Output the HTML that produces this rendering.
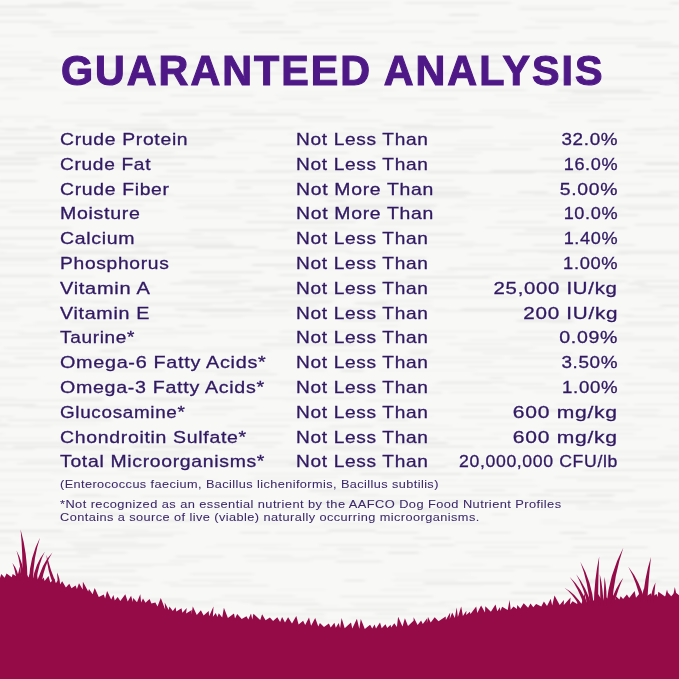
<!DOCTYPE html><html><head><meta charset="utf-8"><style>
html,body{margin:0;padding:0;width:679px;height:679px;overflow:hidden}
body{position:relative;background:#f8f8f7;font-family:"Liberation Sans",sans-serif}
.t{position:absolute;white-space:nowrap;line-height:1;top:0}
.r{font-size:17px;color:#301962;-webkit-text-stroke:0.3px #301962;letter-spacing:0.6px}
.n{font-size:10.6px;color:#3b2868;-webkit-text-stroke:0.05px #3b2868;letter-spacing:0.35px}
.ti{font-size:41.8px;font-weight:bold;color:#4e1986;-webkit-text-stroke:1.1px #4e1986}
.L{transform-origin:0 0}.R{transform-origin:100% 0}
</style></head><body>
<svg style="position:absolute;left:0;top:0" width="679" height="679"><defs><filter id="bl" x="-5%" y="-50%" width="110%" height="200%"><feGaussianBlur stdDeviation="2 0.9"/></filter></defs><g fill="#202020" filter="url(#bl)"><rect x="62" y="2.2" width="21" height="1.5" fill-opacity="0.063"/><rect x="187" y="2.2" width="67" height="1" fill-opacity="0.064"/><rect x="294" y="2.2" width="97" height="1" fill-opacity="0.060"/><rect x="405" y="2.2" width="106" height="1.5" fill-opacity="0.061"/><rect x="670" y="2.2" width="103" height="2" fill-opacity="0.062"/><rect x="-38" y="4.1" width="18" height="2" fill-opacity="0.040"/><rect x="28" y="4.1" width="96" height="1.5" fill-opacity="0.063"/><rect x="159" y="4.1" width="54" height="1" fill-opacity="0.043"/><rect x="-9" y="5.8" width="109" height="2" fill-opacity="0.062"/><rect x="155" y="5.8" width="17" height="1" fill-opacity="0.047"/><rect x="179" y="5.8" width="73" height="1.5" fill-opacity="0.059"/><rect x="288" y="5.8" width="103" height="1" fill-opacity="0.039"/><rect x="441" y="5.8" width="34" height="1" fill-opacity="0.054"/><rect x="518" y="5.8" width="108" height="1" fill-opacity="0.044"/><rect x="195" y="8.4" width="63" height="1" fill-opacity="0.059"/><rect x="314" y="8.4" width="57" height="1.5" fill-opacity="0.042"/><rect x="519" y="8.4" width="75" height="1.5" fill-opacity="0.057"/><rect x="632" y="8.4" width="41" height="1" fill-opacity="0.054"/><rect x="-33" y="10.7" width="71" height="1.5" fill-opacity="0.045"/><rect x="85" y="10.7" width="95" height="1" fill-opacity="0.061"/><rect x="291" y="10.7" width="44" height="1" fill-opacity="0.062"/><rect x="-44" y="13.9" width="90" height="1.5" fill-opacity="0.068"/><rect x="95" y="13.9" width="95" height="1" fill-opacity="0.041"/><rect x="239" y="13.9" width="48" height="1.5" fill-opacity="0.042"/><rect x="318" y="13.9" width="75" height="1" fill-opacity="0.053"/><rect x="449" y="13.9" width="30" height="2" fill-opacity="0.068"/><rect x="124" y="18.3" width="107" height="1" fill-opacity="0.040"/><rect x="528" y="18.3" width="86" height="1" fill-opacity="0.042"/><rect x="-45" y="20.8" width="97" height="1.5" fill-opacity="0.061"/><rect x="107" y="20.8" width="38" height="1" fill-opacity="0.066"/><rect x="264" y="20.8" width="20" height="2" fill-opacity="0.041"/><rect x="389" y="20.8" width="89" height="2" fill-opacity="0.032"/><rect x="536" y="20.8" width="96" height="1.5" fill-opacity="0.050"/><rect x="646" y="20.8" width="22" height="1.5" fill-opacity="0.046"/><rect x="31" y="22.9" width="51" height="1.5" fill-opacity="0.037"/><rect x="112" y="22.9" width="77" height="1" fill-opacity="0.055"/><rect x="228" y="22.9" width="56" height="1.5" fill-opacity="0.050"/><rect x="312" y="22.9" width="81" height="1.5" fill-opacity="0.040"/><rect x="437" y="22.9" width="22" height="1" fill-opacity="0.047"/><rect x="614" y="22.9" width="40" height="2" fill-opacity="0.035"/><rect x="40" y="26.6" width="24" height="1" fill-opacity="0.065"/><rect x="168" y="26.6" width="26" height="1.5" fill-opacity="0.058"/><rect x="230" y="26.6" width="91" height="1" fill-opacity="0.061"/><rect x="523" y="26.6" width="38" height="2" fill-opacity="0.040"/><rect x="51" y="31.0" width="107" height="2" fill-opacity="0.053"/><rect x="239" y="31.0" width="62" height="2" fill-opacity="0.058"/><rect x="338" y="31.0" width="97" height="1" fill-opacity="0.060"/><rect x="472" y="31.0" width="45" height="1.5" fill-opacity="0.058"/><rect x="-7" y="35.4" width="44" height="1" fill-opacity="0.062"/><rect x="52" y="35.4" width="49" height="1" fill-opacity="0.061"/><rect x="148" y="37.6" width="104" height="1" fill-opacity="0.032"/><rect x="280" y="37.6" width="84" height="1.5" fill-opacity="0.034"/><rect x="453" y="37.6" width="18" height="1" fill-opacity="0.045"/><rect x="585" y="37.6" width="67" height="2" fill-opacity="0.041"/><rect x="299" y="41.9" width="79" height="2" fill-opacity="0.035"/><rect x="411" y="41.9" width="21" height="1" fill-opacity="0.059"/><rect x="472" y="41.9" width="84" height="2" fill-opacity="0.045"/><rect x="568" y="41.9" width="104" height="2" fill-opacity="0.043"/><rect x="-33" y="45.4" width="45" height="1" fill-opacity="0.033"/><rect x="150" y="45.4" width="40" height="1" fill-opacity="0.065"/><rect x="423" y="45.4" width="92" height="1" fill-opacity="0.050"/><rect x="636" y="45.4" width="101" height="2" fill-opacity="0.058"/><rect x="78" y="48.0" width="91" height="1" fill-opacity="0.037"/><rect x="-20" y="51.8" width="62" height="1" fill-opacity="0.048"/><rect x="181" y="51.8" width="105" height="1" fill-opacity="0.041"/><rect x="396" y="51.8" width="49" height="1" fill-opacity="0.033"/><rect x="121" y="54.4" width="87" height="1" fill-opacity="0.034"/><rect x="357" y="54.4" width="60" height="1" fill-opacity="0.064"/><rect x="458" y="54.4" width="44" height="2" fill-opacity="0.060"/><rect x="531" y="54.4" width="58" height="1.5" fill-opacity="0.040"/><rect x="619" y="54.4" width="49" height="1" fill-opacity="0.069"/><rect x="-9" y="57.0" width="66" height="2" fill-opacity="0.031"/><rect x="90" y="57.0" width="75" height="2" fill-opacity="0.054"/><rect x="197" y="57.0" width="21" height="2" fill-opacity="0.048"/><rect x="225" y="57.0" width="83" height="2" fill-opacity="0.032"/><rect x="314" y="57.0" width="107" height="2" fill-opacity="0.034"/><rect x="436" y="57.0" width="47" height="1" fill-opacity="0.067"/><rect x="11" y="60.2" width="20" height="1" fill-opacity="0.034"/><rect x="42" y="60.2" width="80" height="2" fill-opacity="0.050"/><rect x="223" y="60.2" width="108" height="1.5" fill-opacity="0.062"/><rect x="387" y="60.2" width="18" height="2" fill-opacity="0.054"/><rect x="470" y="60.2" width="52" height="2" fill-opacity="0.057"/><rect x="-46" y="62.9" width="89" height="1" fill-opacity="0.041"/><rect x="206" y="62.9" width="105" height="1" fill-opacity="0.037"/><rect x="648" y="62.9" width="110" height="1" fill-opacity="0.038"/><rect x="-33" y="65.3" width="93" height="1" fill-opacity="0.058"/><rect x="156" y="65.3" width="42" height="2" fill-opacity="0.064"/><rect x="231" y="65.3" width="101" height="1" fill-opacity="0.065"/><rect x="363" y="65.3" width="74" height="1" fill-opacity="0.062"/><rect x="533" y="65.3" width="25" height="1" fill-opacity="0.063"/><rect x="30" y="68.7" width="92" height="2" fill-opacity="0.052"/><rect x="144" y="68.7" width="76" height="1" fill-opacity="0.038"/><rect x="276" y="68.7" width="80" height="1" fill-opacity="0.061"/><rect x="394" y="68.7" width="35" height="1.5" fill-opacity="0.070"/><rect x="448" y="68.7" width="57" height="1" fill-opacity="0.043"/><rect x="82" y="72.9" width="105" height="2" fill-opacity="0.061"/><rect x="218" y="72.9" width="71" height="1" fill-opacity="0.068"/><rect x="420" y="72.9" width="86" height="1.5" fill-opacity="0.047"/><rect x="670" y="72.9" width="35" height="1.5" fill-opacity="0.062"/><rect x="-7" y="77.4" width="50" height="2" fill-opacity="0.042"/><rect x="74" y="77.4" width="110" height="1.5" fill-opacity="0.068"/><rect x="313" y="77.4" width="43" height="1" fill-opacity="0.062"/><rect x="362" y="77.4" width="75" height="1" fill-opacity="0.031"/><rect x="575" y="77.4" width="107" height="2" fill-opacity="0.052"/><rect x="-34" y="78.9" width="47" height="1" fill-opacity="0.052"/><rect x="115" y="78.9" width="84" height="1" fill-opacity="0.031"/><rect x="367" y="78.9" width="39" height="2" fill-opacity="0.060"/><rect x="553" y="78.9" width="31" height="2" fill-opacity="0.056"/><rect x="-35" y="82.2" width="64" height="1" fill-opacity="0.037"/><rect x="89" y="82.2" width="67" height="2" fill-opacity="0.044"/><rect x="176" y="82.2" width="39" height="1.5" fill-opacity="0.051"/><rect x="228" y="82.2" width="19" height="2" fill-opacity="0.039"/><rect x="303" y="82.2" width="73" height="1" fill-opacity="0.053"/><rect x="676" y="82.2" width="76" height="1" fill-opacity="0.067"/><rect x="-36" y="86.6" width="20" height="1.5" fill-opacity="0.032"/><rect x="6" y="86.6" width="52" height="1.5" fill-opacity="0.035"/><rect x="86" y="86.6" width="100" height="1" fill-opacity="0.068"/><rect x="555" y="86.6" width="108" height="1" fill-opacity="0.042"/><rect x="678" y="86.6" width="61" height="1" fill-opacity="0.036"/><rect x="-36" y="89.5" width="16" height="1" fill-opacity="0.037"/><rect x="2" y="89.5" width="77" height="1" fill-opacity="0.036"/><rect x="113" y="89.5" width="51" height="1" fill-opacity="0.046"/><rect x="185" y="89.5" width="27" height="1.5" fill-opacity="0.035"/><rect x="346" y="89.5" width="50" height="1" fill-opacity="0.049"/><rect x="421" y="89.5" width="105" height="1.5" fill-opacity="0.058"/><rect x="557" y="89.5" width="85" height="2" fill-opacity="0.064"/><rect x="679" y="89.5" width="59" height="2" fill-opacity="0.048"/><rect x="215" y="91.6" width="40" height="1" fill-opacity="0.032"/><rect x="283" y="91.6" width="98" height="1" fill-opacity="0.031"/><rect x="572" y="91.6" width="88" height="2" fill-opacity="0.052"/><rect x="170" y="94.8" width="84" height="1.5" fill-opacity="0.058"/><rect x="275" y="94.8" width="108" height="1" fill-opacity="0.035"/><rect x="495" y="94.8" width="107" height="1" fill-opacity="0.049"/><rect x="662" y="94.8" width="65" height="1" fill-opacity="0.055"/><rect x="-23" y="98.0" width="43" height="1" fill-opacity="0.045"/><rect x="78" y="98.0" width="50" height="1" fill-opacity="0.052"/><rect x="279" y="98.0" width="44" height="1.5" fill-opacity="0.046"/><rect x="378" y="98.0" width="80" height="1.5" fill-opacity="0.050"/><rect x="538" y="98.0" width="23" height="1" fill-opacity="0.041"/><rect x="567" y="98.0" width="85" height="1.5" fill-opacity="0.048"/><rect x="63" y="102.0" width="99" height="1.5" fill-opacity="0.049"/><rect x="254" y="102.0" width="23" height="1" fill-opacity="0.044"/><rect x="309" y="102.0" width="109" height="1" fill-opacity="0.036"/><rect x="548" y="102.0" width="56" height="1" fill-opacity="0.069"/><rect x="203" y="106.0" width="36" height="1" fill-opacity="0.056"/><rect x="545" y="106.0" width="53" height="1" fill-opacity="0.048"/><rect x="107" y="109.8" width="21" height="1" fill-opacity="0.042"/><rect x="160" y="109.8" width="96" height="2" fill-opacity="0.034"/><rect x="268" y="109.8" width="102" height="1" fill-opacity="0.038"/><rect x="416" y="109.8" width="46" height="1" fill-opacity="0.065"/><rect x="480" y="109.8" width="50" height="1.5" fill-opacity="0.041"/><rect x="550" y="109.8" width="81" height="1" fill-opacity="0.034"/><rect x="652" y="109.8" width="31" height="1" fill-opacity="0.049"/><rect x="141" y="113.4" width="57" height="2" fill-opacity="0.061"/><rect x="230" y="113.4" width="70" height="2" fill-opacity="0.066"/><rect x="434" y="113.4" width="110" height="2" fill-opacity="0.037"/><rect x="-8" y="116.5" width="57" height="1" fill-opacity="0.053"/><rect x="299" y="116.5" width="46" height="1.5" fill-opacity="0.067"/><rect x="503" y="116.5" width="55" height="1.5" fill-opacity="0.037"/><rect x="601" y="116.5" width="68" height="1" fill-opacity="0.034"/><rect x="-50" y="120.2" width="52" height="1.5" fill-opacity="0.046"/><rect x="14" y="120.2" width="20" height="1" fill-opacity="0.038"/><rect x="45" y="120.2" width="67" height="1.5" fill-opacity="0.045"/><rect x="140" y="120.2" width="21" height="1.5" fill-opacity="0.043"/><rect x="172" y="120.2" width="105" height="1.5" fill-opacity="0.047"/><rect x="303" y="120.2" width="80" height="1" fill-opacity="0.061"/><rect x="424" y="120.2" width="38" height="1.5" fill-opacity="0.044"/><rect x="588" y="120.2" width="36" height="1.5" fill-opacity="0.069"/><rect x="675" y="120.2" width="28" height="1" fill-opacity="0.050"/><rect x="76" y="124.3" width="91" height="2" fill-opacity="0.052"/><rect x="181" y="124.3" width="18" height="1" fill-opacity="0.030"/><rect x="382" y="124.3" width="50" height="1.5" fill-opacity="0.052"/><rect x="35" y="126.2" width="16" height="2" fill-opacity="0.061"/><rect x="232" y="126.2" width="80" height="1.5" fill-opacity="0.030"/><rect x="402" y="126.2" width="91" height="2" fill-opacity="0.062"/><rect x="663" y="126.2" width="37" height="1" fill-opacity="0.039"/><rect x="-41" y="128.0" width="69" height="1.5" fill-opacity="0.054"/><rect x="110" y="128.0" width="58" height="2" fill-opacity="0.056"/><rect x="209" y="128.0" width="85" height="1.5" fill-opacity="0.047"/><rect x="343" y="128.0" width="32" height="1.5" fill-opacity="0.051"/><rect x="633" y="128.0" width="62" height="2" fill-opacity="0.040"/><rect x="-23" y="129.6" width="21" height="1" fill-opacity="0.049"/><rect x="5" y="129.6" width="79" height="1.5" fill-opacity="0.049"/><rect x="132" y="129.6" width="91" height="2" fill-opacity="0.053"/><rect x="373" y="129.6" width="88" height="1" fill-opacity="0.055"/><rect x="596" y="129.6" width="62" height="1" fill-opacity="0.050"/><rect x="-26" y="133.2" width="52" height="1" fill-opacity="0.054"/><rect x="158" y="133.2" width="86" height="1.5" fill-opacity="0.034"/><rect x="289" y="133.2" width="106" height="1.5" fill-opacity="0.038"/><rect x="519" y="133.2" width="53" height="1" fill-opacity="0.043"/><rect x="627" y="133.2" width="58" height="1.5" fill-opacity="0.047"/><rect x="-38" y="137.2" width="93" height="2" fill-opacity="0.066"/><rect x="74" y="137.2" width="36" height="1" fill-opacity="0.038"/><rect x="151" y="137.2" width="84" height="2" fill-opacity="0.061"/><rect x="368" y="137.2" width="60" height="1" fill-opacity="0.052"/><rect x="95" y="140.5" width="56" height="2" fill-opacity="0.039"/><rect x="183" y="140.5" width="74" height="1" fill-opacity="0.031"/><rect x="360" y="140.5" width="27" height="2" fill-opacity="0.038"/><rect x="458" y="140.5" width="101" height="1" fill-opacity="0.042"/><rect x="51" y="142.4" width="43" height="1" fill-opacity="0.039"/><rect x="149" y="142.4" width="68" height="1" fill-opacity="0.047"/><rect x="355" y="142.4" width="65" height="1.5" fill-opacity="0.038"/><rect x="599" y="142.4" width="39" height="1" fill-opacity="0.053"/><rect x="-13" y="144.1" width="73" height="1.5" fill-opacity="0.066"/><rect x="182" y="144.1" width="31" height="1.5" fill-opacity="0.061"/><rect x="265" y="144.1" width="61" height="2" fill-opacity="0.051"/><rect x="351" y="144.1" width="49" height="1.5" fill-opacity="0.030"/><rect x="432" y="144.1" width="62" height="1.5" fill-opacity="0.049"/><rect x="509" y="144.1" width="108" height="1" fill-opacity="0.065"/><rect x="663" y="144.1" width="106" height="1" fill-opacity="0.045"/><rect x="-7" y="148.1" width="108" height="1" fill-opacity="0.045"/><rect x="141" y="148.1" width="63" height="1" fill-opacity="0.049"/><rect x="454" y="148.1" width="78" height="2" fill-opacity="0.038"/><rect x="-18" y="151.9" width="16" height="1" fill-opacity="0.051"/><rect x="15" y="151.9" width="71" height="2" fill-opacity="0.064"/><rect x="120" y="151.9" width="54" height="1.5" fill-opacity="0.055"/><rect x="226" y="151.9" width="42" height="1.5" fill-opacity="0.037"/><rect x="297" y="151.9" width="52" height="1.5" fill-opacity="0.058"/><rect x="432" y="151.9" width="50" height="1.5" fill-opacity="0.045"/><rect x="602" y="151.9" width="36" height="1.5" fill-opacity="0.044"/><rect x="-45" y="155.9" width="99" height="1" fill-opacity="0.060"/><rect x="106" y="155.9" width="110" height="2" fill-opacity="0.058"/><rect x="264" y="155.9" width="53" height="1" fill-opacity="0.064"/><rect x="374" y="155.9" width="101" height="1" fill-opacity="0.070"/><rect x="564" y="155.9" width="50" height="1" fill-opacity="0.051"/><rect x="619" y="155.9" width="57" height="1.5" fill-opacity="0.032"/><rect x="-32" y="157.9" width="69" height="2" fill-opacity="0.069"/><rect x="106" y="157.9" width="66" height="1" fill-opacity="0.030"/><rect x="203" y="157.9" width="46" height="1" fill-opacity="0.045"/><rect x="280" y="157.9" width="63" height="1" fill-opacity="0.030"/><rect x="540" y="157.9" width="51" height="2" fill-opacity="0.057"/><rect x="-23" y="161.5" width="108" height="1" fill-opacity="0.042"/><rect x="271" y="161.5" width="39" height="1.5" fill-opacity="0.047"/><rect x="424" y="161.5" width="54" height="1.5" fill-opacity="0.039"/><rect x="599" y="161.5" width="81" height="1.5" fill-opacity="0.036"/><rect x="-21" y="163.0" width="61" height="2" fill-opacity="0.053"/><rect x="99" y="163.0" width="87" height="2" fill-opacity="0.063"/><rect x="645" y="163.0" width="49" height="2" fill-opacity="0.066"/><rect x="-51" y="166.8" width="48" height="1.5" fill-opacity="0.069"/><rect x="51" y="166.8" width="87" height="2" fill-opacity="0.038"/><rect x="-41" y="170.1" width="74" height="1.5" fill-opacity="0.051"/><rect x="166" y="170.1" width="79" height="2" fill-opacity="0.040"/><rect x="255" y="170.1" width="93" height="2" fill-opacity="0.053"/><rect x="401" y="170.1" width="68" height="2" fill-opacity="0.035"/><rect x="491" y="170.1" width="92" height="2" fill-opacity="0.066"/><rect x="635" y="170.1" width="59" height="2" fill-opacity="0.057"/><rect x="217" y="171.9" width="75" height="1" fill-opacity="0.046"/><rect x="350" y="171.9" width="15" height="1" fill-opacity="0.039"/><rect x="427" y="171.9" width="108" height="1.5" fill-opacity="0.066"/><rect x="551" y="171.9" width="90" height="1" fill-opacity="0.039"/><rect x="66" y="176.0" width="36" height="1" fill-opacity="0.046"/><rect x="156" y="176.0" width="37" height="1" fill-opacity="0.057"/><rect x="293" y="176.0" width="88" height="1" fill-opacity="0.034"/><rect x="544" y="176.0" width="68" height="1" fill-opacity="0.031"/><rect x="641" y="176.0" width="63" height="1" fill-opacity="0.046"/><rect x="-3" y="180.1" width="40" height="2" fill-opacity="0.062"/><rect x="131" y="180.1" width="97" height="2" fill-opacity="0.033"/><rect x="235" y="180.1" width="107" height="1.5" fill-opacity="0.063"/><rect x="373" y="180.1" width="81" height="1" fill-opacity="0.063"/><rect x="559" y="180.1" width="49" height="1" fill-opacity="0.037"/><rect x="110" y="183.5" width="39" height="1" fill-opacity="0.052"/><rect x="233" y="183.5" width="86" height="1" fill-opacity="0.046"/><rect x="546" y="183.5" width="105" height="1" fill-opacity="0.060"/><rect x="236" y="187.0" width="15" height="1.5" fill-opacity="0.069"/><rect x="397" y="187.0" width="64" height="2" fill-opacity="0.046"/><rect x="-23" y="191.4" width="40" height="1" fill-opacity="0.034"/><rect x="289" y="191.4" width="35" height="1.5" fill-opacity="0.031"/><rect x="366" y="191.4" width="43" height="1" fill-opacity="0.066"/><rect x="416" y="191.4" width="54" height="2" fill-opacity="0.062"/><rect x="518" y="191.4" width="30" height="2" fill-opacity="0.068"/><rect x="659" y="191.4" width="76" height="1.5" fill-opacity="0.053"/><rect x="87" y="193.8" width="86" height="1" fill-opacity="0.059"/><rect x="227" y="193.8" width="104" height="1.5" fill-opacity="0.040"/><rect x="395" y="193.8" width="96" height="1" fill-opacity="0.067"/><rect x="533" y="193.8" width="39" height="1" fill-opacity="0.050"/><rect x="625" y="193.8" width="46" height="2" fill-opacity="0.052"/><rect x="159" y="195.6" width="105" height="1" fill-opacity="0.052"/><rect x="319" y="195.6" width="32" height="1.5" fill-opacity="0.063"/><rect x="368" y="195.6" width="98" height="2" fill-opacity="0.052"/><rect x="500" y="195.6" width="63" height="1" fill-opacity="0.038"/><rect x="617" y="195.6" width="69" height="1" fill-opacity="0.066"/><rect x="-16" y="200.0" width="90" height="1" fill-opacity="0.058"/><rect x="90" y="200.0" width="75" height="1" fill-opacity="0.067"/><rect x="174" y="200.0" width="96" height="1.5" fill-opacity="0.030"/><rect x="326" y="200.0" width="20" height="1.5" fill-opacity="0.066"/><rect x="463" y="200.0" width="101" height="1" fill-opacity="0.044"/><rect x="-11" y="204.4" width="60" height="1" fill-opacity="0.050"/><rect x="73" y="204.4" width="29" height="1.5" fill-opacity="0.063"/><rect x="107" y="204.4" width="37" height="2" fill-opacity="0.040"/><rect x="186" y="204.4" width="109" height="1" fill-opacity="0.069"/><rect x="339" y="204.4" width="98" height="2" fill-opacity="0.058"/><rect x="455" y="204.4" width="108" height="1" fill-opacity="0.053"/><rect x="615" y="204.4" width="64" height="1.5" fill-opacity="0.040"/><rect x="-12" y="206.7" width="22" height="1" fill-opacity="0.057"/><rect x="178" y="206.7" width="63" height="2" fill-opacity="0.043"/><rect x="284" y="206.7" width="20" height="1.5" fill-opacity="0.045"/><rect x="325" y="206.7" width="105" height="1" fill-opacity="0.063"/><rect x="448" y="206.7" width="22" height="1" fill-opacity="0.039"/><rect x="613" y="206.7" width="88" height="1.5" fill-opacity="0.043"/><rect x="313" y="208.3" width="80" height="1" fill-opacity="0.044"/><rect x="417" y="208.3" width="17" height="1.5" fill-opacity="0.048"/><rect x="472" y="208.3" width="18" height="1" fill-opacity="0.036"/><rect x="511" y="208.3" width="93" height="1.5" fill-opacity="0.033"/><rect x="626" y="208.3" width="49" height="1.5" fill-opacity="0.039"/><rect x="9" y="210.5" width="61" height="2" fill-opacity="0.056"/><rect x="114" y="210.5" width="51" height="1" fill-opacity="0.058"/><rect x="216" y="210.5" width="55" height="1" fill-opacity="0.053"/><rect x="321" y="210.5" width="48" height="2" fill-opacity="0.041"/><rect x="499" y="210.5" width="17" height="1.5" fill-opacity="0.043"/><rect x="567" y="210.5" width="56" height="1" fill-opacity="0.053"/><rect x="257" y="214.4" width="44" height="1.5" fill-opacity="0.052"/><rect x="547" y="214.4" width="92" height="1.5" fill-opacity="0.066"/><rect x="-38" y="217.2" width="99" height="1" fill-opacity="0.033"/><rect x="184" y="217.2" width="57" height="1" fill-opacity="0.049"/><rect x="325" y="217.2" width="20" height="2" fill-opacity="0.048"/><rect x="382" y="217.2" width="83" height="1" fill-opacity="0.061"/><rect x="246" y="221.1" width="110" height="2" fill-opacity="0.059"/><rect x="378" y="221.1" width="90" height="1" fill-opacity="0.049"/><rect x="496" y="221.1" width="51" height="2" fill-opacity="0.039"/><rect x="281" y="223.7" width="56" height="1" fill-opacity="0.042"/><rect x="375" y="223.7" width="75" height="1" fill-opacity="0.067"/><rect x="635" y="223.7" width="98" height="2" fill-opacity="0.052"/><rect x="-21" y="227.1" width="92" height="1.5" fill-opacity="0.066"/><rect x="283" y="227.1" width="65" height="1" fill-opacity="0.050"/><rect x="485" y="227.1" width="91" height="1" fill-opacity="0.065"/><rect x="610" y="227.1" width="17" height="2" fill-opacity="0.060"/><rect x="190" y="229.2" width="98" height="2" fill-opacity="0.060"/><rect x="314" y="229.2" width="87" height="1" fill-opacity="0.038"/><rect x="525" y="229.2" width="47" height="2" fill-opacity="0.051"/><rect x="136" y="233.3" width="67" height="1.5" fill-opacity="0.055"/><rect x="209" y="233.3" width="57" height="1" fill-opacity="0.034"/><rect x="423" y="233.3" width="41" height="2" fill-opacity="0.066"/><rect x="513" y="233.3" width="71" height="1.5" fill-opacity="0.061"/><rect x="-46" y="237.4" width="105" height="2" fill-opacity="0.055"/><rect x="102" y="237.4" width="29" height="1" fill-opacity="0.058"/><rect x="186" y="237.4" width="40" height="1" fill-opacity="0.069"/><rect x="277" y="237.4" width="73" height="1" fill-opacity="0.062"/><rect x="-27" y="241.5" width="25" height="1.5" fill-opacity="0.067"/><rect x="132" y="241.5" width="100" height="1" fill-opacity="0.060"/><rect x="418" y="241.5" width="57" height="1.5" fill-opacity="0.039"/><rect x="-36" y="244.1" width="52" height="1" fill-opacity="0.053"/><rect x="69" y="244.1" width="50" height="1" fill-opacity="0.041"/><rect x="134" y="244.1" width="100" height="2" fill-opacity="0.058"/><rect x="459" y="244.1" width="42" height="1.5" fill-opacity="0.050"/><rect x="533" y="244.1" width="102" height="2" fill-opacity="0.050"/><rect x="-55" y="246.4" width="110" height="2" fill-opacity="0.044"/><rect x="113" y="246.4" width="36" height="1" fill-opacity="0.068"/><rect x="194" y="246.4" width="64" height="2" fill-opacity="0.066"/><rect x="313" y="246.4" width="35" height="1" fill-opacity="0.055"/><rect x="404" y="246.4" width="69" height="1.5" fill-opacity="0.037"/><rect x="60" y="249.8" width="51" height="1" fill-opacity="0.057"/><rect x="135" y="249.8" width="15" height="1" fill-opacity="0.065"/><rect x="165" y="249.8" width="29" height="1" fill-opacity="0.033"/><rect x="256" y="249.8" width="95" height="2" fill-opacity="0.038"/><rect x="506" y="249.8" width="81" height="2" fill-opacity="0.056"/><rect x="617" y="249.8" width="100" height="1" fill-opacity="0.052"/><rect x="-20" y="251.8" width="26" height="1" fill-opacity="0.048"/><rect x="58" y="251.8" width="109" height="2" fill-opacity="0.066"/><rect x="272" y="251.8" width="53" height="1" fill-opacity="0.042"/><rect x="347" y="251.8" width="42" height="2" fill-opacity="0.044"/><rect x="539" y="251.8" width="53" height="1" fill-opacity="0.060"/><rect x="617" y="251.8" width="78" height="2" fill-opacity="0.061"/><rect x="-19" y="253.7" width="89" height="1" fill-opacity="0.054"/><rect x="228" y="253.7" width="91" height="2" fill-opacity="0.031"/><rect x="468" y="253.7" width="47" height="1.5" fill-opacity="0.048"/><rect x="548" y="253.7" width="80" height="1" fill-opacity="0.037"/><rect x="-6" y="257.1" width="87" height="1.5" fill-opacity="0.060"/><rect x="105" y="257.1" width="31" height="1.5" fill-opacity="0.059"/><rect x="162" y="257.1" width="80" height="1" fill-opacity="0.067"/><rect x="383" y="257.1" width="43" height="1.5" fill-opacity="0.060"/><rect x="-34" y="259.6" width="82" height="1.5" fill-opacity="0.052"/><rect x="96" y="259.6" width="60" height="2" fill-opacity="0.052"/><rect x="521" y="259.6" width="87" height="1" fill-opacity="0.035"/><rect x="-7" y="264.0" width="88" height="1.5" fill-opacity="0.032"/><rect x="134" y="264.0" width="66" height="1" fill-opacity="0.040"/><rect x="252" y="264.0" width="66" height="2" fill-opacity="0.067"/><rect x="468" y="264.0" width="40" height="1" fill-opacity="0.056"/><rect x="525" y="264.0" width="39" height="1" fill-opacity="0.032"/><rect x="588" y="264.0" width="80" height="1" fill-opacity="0.060"/><rect x="100" y="267.7" width="16" height="2" fill-opacity="0.030"/><rect x="275" y="267.7" width="71" height="1" fill-opacity="0.058"/><rect x="447" y="267.7" width="104" height="2" fill-opacity="0.059"/><rect x="637" y="267.7" width="56" height="1" fill-opacity="0.031"/><rect x="190" y="271.2" width="73" height="2" fill-opacity="0.062"/><rect x="434" y="271.2" width="23" height="1.5" fill-opacity="0.032"/><rect x="-15" y="274.4" width="67" height="2" fill-opacity="0.049"/><rect x="279" y="274.4" width="28" height="1.5" fill-opacity="0.068"/><rect x="342" y="274.4" width="57" height="1" fill-opacity="0.047"/><rect x="484" y="274.4" width="17" height="1" fill-opacity="0.038"/><rect x="518" y="274.4" width="108" height="1" fill-opacity="0.037"/><rect x="-5" y="276.2" width="99" height="1" fill-opacity="0.054"/><rect x="201" y="276.2" width="39" height="1" fill-opacity="0.054"/><rect x="407" y="276.2" width="83" height="2" fill-opacity="0.069"/><rect x="501" y="276.2" width="36" height="1" fill-opacity="0.031"/><rect x="549" y="276.2" width="35" height="2" fill-opacity="0.065"/><rect x="615" y="276.2" width="50" height="1" fill-opacity="0.047"/><rect x="182" y="280.3" width="69" height="1.5" fill-opacity="0.063"/><rect x="384" y="280.3" width="33" height="2" fill-opacity="0.048"/><rect x="530" y="280.3" width="97" height="1.5" fill-opacity="0.067"/><rect x="634" y="280.3" width="89" height="1.5" fill-opacity="0.061"/><rect x="-33" y="282.8" width="34" height="1" fill-opacity="0.047"/><rect x="33" y="282.8" width="16" height="1" fill-opacity="0.039"/><rect x="170" y="282.8" width="69" height="1.5" fill-opacity="0.066"/><rect x="292" y="282.8" width="64" height="1" fill-opacity="0.036"/><rect x="377" y="282.8" width="80" height="1" fill-opacity="0.069"/><rect x="542" y="282.8" width="78" height="1" fill-opacity="0.056"/><rect x="628" y="282.8" width="18" height="2" fill-opacity="0.059"/><rect x="-9" y="285.7" width="61" height="1" fill-opacity="0.059"/><rect x="78" y="285.7" width="77" height="1.5" fill-opacity="0.064"/><rect x="206" y="285.7" width="99" height="2" fill-opacity="0.035"/><rect x="463" y="285.7" width="72" height="1" fill-opacity="0.038"/><rect x="576" y="285.7" width="16" height="1" fill-opacity="0.052"/><rect x="639" y="285.7" width="55" height="1.5" fill-opacity="0.069"/><rect x="252" y="288.1" width="74" height="2" fill-opacity="0.057"/><rect x="356" y="288.1" width="103" height="1" fill-opacity="0.047"/><rect x="468" y="288.1" width="29" height="1" fill-opacity="0.044"/><rect x="512" y="288.1" width="68" height="1" fill-opacity="0.061"/><rect x="626" y="288.1" width="102" height="1.5" fill-opacity="0.031"/><rect x="-35" y="290.3" width="26" height="2" fill-opacity="0.059"/><rect x="222" y="290.3" width="56" height="1.5" fill-opacity="0.063"/><rect x="336" y="290.3" width="15" height="1" fill-opacity="0.059"/><rect x="360" y="290.3" width="69" height="1" fill-opacity="0.047"/><rect x="554" y="290.3" width="98" height="1" fill-opacity="0.069"/><rect x="-35" y="292.6" width="62" height="1" fill-opacity="0.052"/><rect x="147" y="292.6" width="84" height="1" fill-opacity="0.068"/><rect x="322" y="292.6" width="35" height="1.5" fill-opacity="0.061"/><rect x="577" y="292.6" width="103" height="1" fill-opacity="0.056"/><rect x="271" y="294.7" width="52" height="1.5" fill-opacity="0.059"/><rect x="-19" y="296.5" width="79" height="1.5" fill-opacity="0.040"/><rect x="188" y="296.5" width="74" height="1" fill-opacity="0.064"/><rect x="269" y="296.5" width="78" height="1" fill-opacity="0.036"/><rect x="420" y="296.5" width="97" height="1.5" fill-opacity="0.048"/><rect x="655" y="296.5" width="66" height="1" fill-opacity="0.064"/><rect x="42" y="300.5" width="67" height="2" fill-opacity="0.035"/><rect x="234" y="300.5" width="100" height="1" fill-opacity="0.062"/><rect x="377" y="300.5" width="55" height="1.5" fill-opacity="0.037"/><rect x="647" y="300.5" width="54" height="1" fill-opacity="0.033"/><rect x="-42" y="302.2" width="51" height="1" fill-opacity="0.034"/><rect x="16" y="302.2" width="33" height="1" fill-opacity="0.056"/><rect x="91" y="302.2" width="43" height="1" fill-opacity="0.040"/><rect x="142" y="302.2" width="102" height="2" fill-opacity="0.036"/><rect x="261" y="302.2" width="70" height="1" fill-opacity="0.070"/><rect x="355" y="302.2" width="32" height="2" fill-opacity="0.061"/><rect x="-36" y="304.6" width="87" height="2" fill-opacity="0.044"/><rect x="119" y="304.6" width="92" height="1.5" fill-opacity="0.042"/><rect x="252" y="304.6" width="66" height="2" fill-opacity="0.038"/><rect x="368" y="304.6" width="64" height="2" fill-opacity="0.030"/><rect x="660" y="304.6" width="54" height="2" fill-opacity="0.065"/><rect x="-21" y="308.4" width="37" height="1" fill-opacity="0.063"/><rect x="48" y="308.4" width="94" height="1" fill-opacity="0.060"/><rect x="175" y="308.4" width="77" height="2" fill-opacity="0.057"/><rect x="272" y="308.4" width="45" height="1.5" fill-opacity="0.031"/><rect x="337" y="308.4" width="26" height="1.5" fill-opacity="0.064"/><rect x="411" y="308.4" width="37" height="1" fill-opacity="0.041"/><rect x="461" y="308.4" width="70" height="2" fill-opacity="0.063"/><rect x="631" y="308.4" width="34" height="1.5" fill-opacity="0.039"/><rect x="-57" y="310.3" width="73" height="1" fill-opacity="0.036"/><rect x="200" y="310.3" width="89" height="1.5" fill-opacity="0.065"/><rect x="434" y="310.3" width="100" height="1.5" fill-opacity="0.048"/><rect x="122" y="314.5" width="65" height="2" fill-opacity="0.040"/><rect x="209" y="314.5" width="86" height="1" fill-opacity="0.053"/><rect x="583" y="314.5" width="50" height="1.5" fill-opacity="0.044"/><rect x="-38" y="316.1" width="59" height="1.5" fill-opacity="0.039"/><rect x="106" y="316.1" width="47" height="1" fill-opacity="0.052"/><rect x="179" y="316.1" width="65" height="1.5" fill-opacity="0.031"/><rect x="301" y="316.1" width="22" height="1" fill-opacity="0.062"/><rect x="336" y="316.1" width="89" height="2" fill-opacity="0.036"/><rect x="531" y="316.1" width="44" height="2" fill-opacity="0.049"/><rect x="624" y="316.1" width="84" height="1" fill-opacity="0.065"/><rect x="-33" y="319.7" width="52" height="1" fill-opacity="0.035"/><rect x="58" y="319.7" width="26" height="1.5" fill-opacity="0.032"/><rect x="128" y="319.7" width="30" height="2" fill-opacity="0.033"/><rect x="341" y="319.7" width="59" height="1.5" fill-opacity="0.068"/><rect x="517" y="319.7" width="56" height="2" fill-opacity="0.065"/><rect x="-49" y="322.0" width="41" height="1" fill-opacity="0.043"/><rect x="34" y="322.0" width="30" height="1.5" fill-opacity="0.036"/><rect x="70" y="322.0" width="64" height="1" fill-opacity="0.060"/><rect x="548" y="322.0" width="26" height="1" fill-opacity="0.042"/><rect x="626" y="322.0" width="107" height="1.5" fill-opacity="0.066"/><rect x="-54" y="325.2" width="23" height="1" fill-opacity="0.058"/><rect x="21" y="325.2" width="107" height="1" fill-opacity="0.035"/><rect x="180" y="325.2" width="26" height="1.5" fill-opacity="0.065"/><rect x="378" y="325.2" width="21" height="1" fill-opacity="0.063"/><rect x="610" y="325.2" width="65" height="1" fill-opacity="0.067"/><rect x="84" y="328.0" width="91" height="1.5" fill-opacity="0.042"/><rect x="-56" y="330.8" width="80" height="1" fill-opacity="0.039"/><rect x="49" y="330.8" width="62" height="1.5" fill-opacity="0.043"/><rect x="164" y="330.8" width="104" height="1" fill-opacity="0.045"/><rect x="280" y="330.8" width="88" height="1.5" fill-opacity="0.055"/><rect x="414" y="330.8" width="83" height="1.5" fill-opacity="0.037"/><rect x="517" y="330.8" width="75" height="2" fill-opacity="0.034"/><rect x="-59" y="332.9" width="29" height="1.5" fill-opacity="0.061"/><rect x="18" y="332.9" width="87" height="1.5" fill-opacity="0.055"/><rect x="139" y="332.9" width="73" height="1" fill-opacity="0.059"/><rect x="602" y="332.9" width="31" height="1.5" fill-opacity="0.039"/><rect x="-12" y="336.6" width="69" height="1.5" fill-opacity="0.055"/><rect x="91" y="336.6" width="86" height="1" fill-opacity="0.034"/><rect x="230" y="336.6" width="65" height="1" fill-opacity="0.058"/><rect x="353" y="336.6" width="104" height="1" fill-opacity="0.058"/><rect x="507" y="336.6" width="47" height="2" fill-opacity="0.036"/><rect x="602" y="336.6" width="74" height="2" fill-opacity="0.040"/><rect x="86" y="339.5" width="52" height="1.5" fill-opacity="0.057"/><rect x="279" y="339.5" width="18" height="2" fill-opacity="0.037"/><rect x="323" y="339.5" width="93" height="1" fill-opacity="0.041"/><rect x="469" y="339.5" width="98" height="1" fill-opacity="0.056"/><rect x="614" y="339.5" width="100" height="1" fill-opacity="0.062"/><rect x="-36" y="343.5" width="35" height="1" fill-opacity="0.064"/><rect x="29" y="343.5" width="89" height="1" fill-opacity="0.038"/><rect x="261" y="343.5" width="94" height="2" fill-opacity="0.057"/><rect x="447" y="343.5" width="62" height="1" fill-opacity="0.064"/><rect x="530" y="343.5" width="75" height="1" fill-opacity="0.045"/><rect x="4" y="347.5" width="55" height="1.5" fill-opacity="0.051"/><rect x="113" y="347.5" width="79" height="1" fill-opacity="0.068"/><rect x="204" y="347.5" width="101" height="1" fill-opacity="0.044"/><rect x="461" y="347.5" width="75" height="1" fill-opacity="0.054"/><rect x="100" y="349.9" width="21" height="2" fill-opacity="0.062"/><rect x="172" y="349.9" width="98" height="2" fill-opacity="0.036"/><rect x="324" y="349.9" width="53" height="1" fill-opacity="0.052"/><rect x="409" y="349.9" width="25" height="2" fill-opacity="0.041"/><rect x="461" y="349.9" width="67" height="1" fill-opacity="0.057"/><rect x="640" y="349.9" width="15" height="1" fill-opacity="0.068"/><rect x="673" y="349.9" width="67" height="1" fill-opacity="0.039"/><rect x="-17" y="352.9" width="61" height="1" fill-opacity="0.049"/><rect x="410" y="352.9" width="20" height="1.5" fill-opacity="0.066"/><rect x="482" y="352.9" width="91" height="1" fill-opacity="0.066"/><rect x="-47" y="357.3" width="30" height="1.5" fill-opacity="0.049"/><rect x="15" y="357.3" width="101" height="1.5" fill-opacity="0.064"/><rect x="402" y="357.3" width="101" height="1" fill-opacity="0.054"/><rect x="511" y="357.3" width="99" height="1.5" fill-opacity="0.056"/><rect x="634" y="357.3" width="73" height="1" fill-opacity="0.062"/><rect x="-32" y="361.4" width="41" height="1" fill-opacity="0.066"/><rect x="117" y="361.4" width="61" height="1" fill-opacity="0.048"/><rect x="223" y="361.4" width="37" height="2" fill-opacity="0.031"/><rect x="387" y="361.4" width="106" height="1.5" fill-opacity="0.050"/><rect x="659" y="361.4" width="69" height="1" fill-opacity="0.041"/><rect x="-7" y="363.6" width="88" height="2" fill-opacity="0.034"/><rect x="580" y="363.6" width="43" height="1" fill-opacity="0.038"/><rect x="628" y="363.6" width="95" height="1" fill-opacity="0.060"/><rect x="-22" y="366.3" width="49" height="1" fill-opacity="0.064"/><rect x="466" y="366.3" width="89" height="1" fill-opacity="0.063"/><rect x="649" y="366.3" width="42" height="1.5" fill-opacity="0.054"/><rect x="75" y="369.8" width="89" height="1.5" fill-opacity="0.044"/><rect x="192" y="369.8" width="77" height="2" fill-opacity="0.035"/><rect x="308" y="369.8" width="18" height="1" fill-opacity="0.056"/><rect x="341" y="369.8" width="23" height="2" fill-opacity="0.066"/><rect x="379" y="369.8" width="98" height="1" fill-opacity="0.030"/><rect x="670" y="369.8" width="58" height="1.5" fill-opacity="0.047"/><rect x="217" y="373.6" width="60" height="1.5" fill-opacity="0.067"/><rect x="473" y="373.6" width="88" height="1" fill-opacity="0.057"/><rect x="587" y="373.6" width="44" height="1" fill-opacity="0.058"/><rect x="-33" y="377.3" width="71" height="2" fill-opacity="0.034"/><rect x="489" y="377.3" width="15" height="1.5" fill-opacity="0.063"/><rect x="544" y="377.3" width="101" height="1" fill-opacity="0.032"/><rect x="65" y="381.5" width="101" height="1" fill-opacity="0.049"/><rect x="212" y="381.5" width="86" height="1" fill-opacity="0.069"/><rect x="329" y="381.5" width="84" height="1.5" fill-opacity="0.036"/><rect x="439" y="381.5" width="68" height="1.5" fill-opacity="0.054"/><rect x="-52" y="383.3" width="78" height="1.5" fill-opacity="0.042"/><rect x="45" y="383.3" width="96" height="1" fill-opacity="0.038"/><rect x="166" y="383.3" width="67" height="1.5" fill-opacity="0.051"/><rect x="279" y="383.3" width="25" height="2" fill-opacity="0.031"/><rect x="434" y="383.3" width="57" height="1" fill-opacity="0.058"/><rect x="507" y="383.3" width="38" height="1.5" fill-opacity="0.060"/><rect x="624" y="383.3" width="72" height="1.5" fill-opacity="0.064"/><rect x="-20" y="387.4" width="19" height="2" fill-opacity="0.038"/><rect x="166" y="387.4" width="47" height="1.5" fill-opacity="0.045"/><rect x="306" y="387.4" width="108" height="1.5" fill-opacity="0.056"/><rect x="430" y="387.4" width="70" height="1.5" fill-opacity="0.032"/><rect x="520" y="387.4" width="92" height="1.5" fill-opacity="0.049"/><rect x="174" y="391.7" width="75" height="1" fill-opacity="0.058"/><rect x="290" y="391.7" width="109" height="1" fill-opacity="0.042"/><rect x="411" y="391.7" width="31" height="2" fill-opacity="0.050"/><rect x="449" y="391.7" width="63" height="1.5" fill-opacity="0.038"/><rect x="534" y="391.7" width="38" height="1" fill-opacity="0.046"/><rect x="619" y="391.7" width="107" height="1.5" fill-opacity="0.043"/><rect x="601" y="393.7" width="31" height="1" fill-opacity="0.040"/><rect x="-2" y="397.6" width="19" height="1" fill-opacity="0.053"/><rect x="70" y="397.6" width="33" height="2" fill-opacity="0.062"/><rect x="135" y="397.6" width="57" height="2" fill-opacity="0.056"/><rect x="259" y="397.6" width="99" height="1" fill-opacity="0.068"/><rect x="675" y="397.6" width="87" height="1" fill-opacity="0.038"/><rect x="-6" y="399.9" width="109" height="1" fill-opacity="0.069"/><rect x="155" y="399.9" width="78" height="1.5" fill-opacity="0.047"/><rect x="283" y="399.9" width="29" height="1" fill-opacity="0.032"/><rect x="366" y="399.9" width="55" height="1.5" fill-opacity="0.039"/><rect x="-17" y="403.9" width="53" height="2" fill-opacity="0.061"/><rect x="464" y="403.9" width="52" height="1" fill-opacity="0.068"/><rect x="556" y="403.9" width="71" height="1" fill-opacity="0.053"/><rect x="634" y="403.9" width="62" height="1" fill-opacity="0.057"/><rect x="23" y="406.5" width="49" height="1.5" fill-opacity="0.051"/><rect x="83" y="406.5" width="62" height="2" fill-opacity="0.032"/><rect x="202" y="406.5" width="54" height="2" fill-opacity="0.039"/><rect x="127" y="409.5" width="108" height="1" fill-opacity="0.050"/><rect x="401" y="409.5" width="91" height="2" fill-opacity="0.034"/><rect x="528" y="409.5" width="48" height="2" fill-opacity="0.068"/><rect x="593" y="409.5" width="67" height="1.5" fill-opacity="0.055"/><rect x="130" y="413.8" width="45" height="1" fill-opacity="0.060"/><rect x="191" y="413.8" width="36" height="1" fill-opacity="0.066"/><rect x="255" y="413.8" width="69" height="1" fill-opacity="0.046"/><rect x="581" y="413.8" width="30" height="1" fill-opacity="0.037"/><rect x="617" y="413.8" width="41" height="1.5" fill-opacity="0.047"/><rect x="-56" y="416.0" width="70" height="1" fill-opacity="0.064"/><rect x="325" y="416.0" width="109" height="1" fill-opacity="0.038"/><rect x="460" y="416.0" width="85" height="2" fill-opacity="0.045"/><rect x="568" y="416.0" width="27" height="1.5" fill-opacity="0.062"/><rect x="634" y="416.0" width="60" height="1" fill-opacity="0.059"/><rect x="-24" y="419.4" width="25" height="2" fill-opacity="0.061"/><rect x="7" y="419.4" width="105" height="1.5" fill-opacity="0.063"/><rect x="241" y="419.4" width="100" height="1" fill-opacity="0.061"/><rect x="377" y="419.4" width="32" height="1.5" fill-opacity="0.070"/><rect x="-57" y="423.6" width="66" height="2" fill-opacity="0.056"/><rect x="31" y="423.6" width="68" height="1" fill-opacity="0.048"/><rect x="356" y="423.6" width="78" height="1" fill-opacity="0.032"/><rect x="477" y="423.6" width="40" height="1.5" fill-opacity="0.033"/><rect x="543" y="423.6" width="91" height="1" fill-opacity="0.054"/><rect x="-41" y="425.4" width="92" height="2" fill-opacity="0.030"/><rect x="227" y="425.4" width="63" height="1.5" fill-opacity="0.058"/><rect x="329" y="425.4" width="44" height="2" fill-opacity="0.051"/><rect x="381" y="425.4" width="71" height="1" fill-opacity="0.039"/><rect x="599" y="425.4" width="62" height="1" fill-opacity="0.037"/><rect x="312" y="429.1" width="28" height="1" fill-opacity="0.047"/><rect x="388" y="429.1" width="96" height="1" fill-opacity="0.053"/><rect x="541" y="429.1" width="101" height="1" fill-opacity="0.055"/><rect x="671" y="429.1" width="95" height="1" fill-opacity="0.041"/><rect x="-42" y="433.3" width="46" height="1" fill-opacity="0.052"/><rect x="193" y="433.3" width="91" height="1.5" fill-opacity="0.064"/><rect x="328" y="433.3" width="15" height="1" fill-opacity="0.059"/><rect x="491" y="433.3" width="37" height="1" fill-opacity="0.044"/><rect x="572" y="433.3" width="63" height="1" fill-opacity="0.064"/><rect x="-8" y="437.7" width="60" height="1" fill-opacity="0.042"/><rect x="60" y="437.7" width="60" height="2" fill-opacity="0.041"/><rect x="150" y="437.7" width="106" height="1.5" fill-opacity="0.043"/><rect x="400" y="437.7" width="38" height="2" fill-opacity="0.054"/><rect x="445" y="437.7" width="55" height="1.5" fill-opacity="0.047"/><rect x="539" y="437.7" width="42" height="1.5" fill-opacity="0.036"/><rect x="607" y="437.7" width="51" height="1" fill-opacity="0.043"/><rect x="-15" y="442.1" width="88" height="2" fill-opacity="0.050"/><rect x="126" y="442.1" width="55" height="1" fill-opacity="0.039"/><rect x="216" y="442.1" width="66" height="1.5" fill-opacity="0.057"/><rect x="296" y="442.1" width="65" height="1" fill-opacity="0.037"/><rect x="396" y="442.1" width="52" height="2" fill-opacity="0.069"/><rect x="-53" y="445.7" width="60" height="1" fill-opacity="0.053"/><rect x="13" y="445.7" width="95" height="2" fill-opacity="0.059"/><rect x="131" y="445.7" width="79" height="2" fill-opacity="0.068"/><rect x="254" y="445.7" width="21" height="2" fill-opacity="0.039"/><rect x="322" y="445.7" width="62" height="2" fill-opacity="0.046"/><rect x="419" y="445.7" width="55" height="2" fill-opacity="0.053"/><rect x="481" y="445.7" width="76" height="2" fill-opacity="0.032"/><rect x="665" y="445.7" width="61" height="1.5" fill-opacity="0.049"/><rect x="-57" y="448.6" width="92" height="1" fill-opacity="0.070"/><rect x="62" y="448.6" width="62" height="2" fill-opacity="0.041"/><rect x="178" y="448.6" width="61" height="1" fill-opacity="0.042"/><rect x="321" y="448.6" width="76" height="1.5" fill-opacity="0.051"/><rect x="134" y="450.8" width="56" height="2" fill-opacity="0.048"/><rect x="248" y="450.8" width="79" height="1" fill-opacity="0.033"/><rect x="341" y="450.8" width="50" height="1" fill-opacity="0.036"/><rect x="584" y="450.8" width="108" height="1" fill-opacity="0.056"/><rect x="86" y="454.1" width="100" height="1" fill-opacity="0.058"/><rect x="229" y="454.1" width="100" height="1" fill-opacity="0.035"/><rect x="385" y="454.1" width="59" height="1.5" fill-opacity="0.041"/><rect x="601" y="454.1" width="109" height="1" fill-opacity="0.035"/><rect x="95" y="456.2" width="88" height="1.5" fill-opacity="0.035"/><rect x="333" y="456.2" width="61" height="1" fill-opacity="0.052"/><rect x="658" y="456.2" width="29" height="1.5" fill-opacity="0.065"/><rect x="-2" y="458.8" width="103" height="1" fill-opacity="0.052"/><rect x="156" y="458.8" width="98" height="1" fill-opacity="0.044"/><rect x="261" y="458.8" width="107" height="1.5" fill-opacity="0.032"/><rect x="382" y="458.8" width="79" height="1" fill-opacity="0.032"/><rect x="476" y="458.8" width="110" height="1.5" fill-opacity="0.034"/><rect x="593" y="458.8" width="104" height="2" fill-opacity="0.056"/><rect x="-53" y="461.3" width="60" height="1" fill-opacity="0.033"/><rect x="25" y="461.3" width="48" height="1" fill-opacity="0.070"/><rect x="109" y="461.3" width="44" height="2" fill-opacity="0.041"/><rect x="209" y="461.3" width="94" height="1.5" fill-opacity="0.059"/><rect x="349" y="461.3" width="59" height="1" fill-opacity="0.067"/><rect x="584" y="461.3" width="25" height="1.5" fill-opacity="0.045"/><rect x="-40" y="462.9" width="26" height="2" fill-opacity="0.031"/><rect x="17" y="462.9" width="90" height="1.5" fill-opacity="0.052"/><rect x="164" y="462.9" width="84" height="1.5" fill-opacity="0.045"/><rect x="289" y="462.9" width="32" height="2" fill-opacity="0.051"/><rect x="339" y="462.9" width="60" height="1" fill-opacity="0.036"/><rect x="445" y="462.9" width="70" height="1.5" fill-opacity="0.047"/><rect x="85" y="465.4" width="110" height="1" fill-opacity="0.056"/><rect x="211" y="465.4" width="88" height="1" fill-opacity="0.063"/><rect x="348" y="465.4" width="99" height="2" fill-opacity="0.061"/><rect x="454" y="465.4" width="109" height="1" fill-opacity="0.040"/><rect x="-32" y="469.3" width="103" height="2" fill-opacity="0.039"/><rect x="118" y="469.3" width="53" height="1" fill-opacity="0.070"/><rect x="332" y="469.3" width="48" height="1" fill-opacity="0.056"/><rect x="402" y="469.3" width="36" height="1" fill-opacity="0.039"/><rect x="583" y="469.3" width="96" height="1.5" fill-opacity="0.069"/><rect x="51" y="473.0" width="81" height="1" fill-opacity="0.037"/><rect x="248" y="473.0" width="104" height="1" fill-opacity="0.051"/><rect x="360" y="473.0" width="102" height="2" fill-opacity="0.064"/><rect x="467" y="473.0" width="50" height="2" fill-opacity="0.049"/><rect x="128" y="476.6" width="76" height="1" fill-opacity="0.066"/><rect x="254" y="476.6" width="85" height="1" fill-opacity="0.051"/><rect x="381" y="476.6" width="20" height="1.5" fill-opacity="0.048"/><rect x="555" y="476.6" width="76" height="1.5" fill-opacity="0.039"/><rect x="-35" y="479.6" width="89" height="1" fill-opacity="0.052"/><rect x="155" y="479.6" width="62" height="1" fill-opacity="0.036"/><rect x="248" y="479.6" width="67" height="1.5" fill-opacity="0.037"/><rect x="436" y="479.6" width="22" height="1.5" fill-opacity="0.033"/><rect x="463" y="479.6" width="71" height="1.5" fill-opacity="0.033"/><rect x="577" y="479.6" width="104" height="1.5" fill-opacity="0.045"/><rect x="84" y="485.4" width="54" height="1.5" fill-opacity="0.065"/><rect x="436" y="485.4" width="102" height="1" fill-opacity="0.052"/><rect x="634" y="485.4" width="28" height="1.5" fill-opacity="0.033"/><rect x="-27" y="489.6" width="87" height="1" fill-opacity="0.037"/><rect x="309" y="489.6" width="50" height="2" fill-opacity="0.063"/><rect x="472" y="489.6" width="33" height="1.5" fill-opacity="0.068"/><rect x="544" y="489.6" width="91" height="2" fill-opacity="0.055"/><rect x="-36" y="494.0" width="78" height="1" fill-opacity="0.042"/><rect x="73" y="494.0" width="28" height="1.5" fill-opacity="0.057"/><rect x="320" y="494.0" width="59" height="1" fill-opacity="0.051"/><rect x="427" y="494.0" width="92" height="2" fill-opacity="0.039"/><rect x="529" y="494.0" width="23" height="2" fill-opacity="0.054"/><rect x="587" y="494.0" width="28" height="2" fill-opacity="0.052"/><rect x="69" y="495.8" width="50" height="1" fill-opacity="0.058"/><rect x="141" y="495.8" width="108" height="1" fill-opacity="0.058"/><rect x="355" y="495.8" width="62" height="1" fill-opacity="0.047"/><rect x="552" y="495.8" width="61" height="1" fill-opacity="0.060"/><rect x="-59" y="500.1" width="72" height="1.5" fill-opacity="0.039"/><rect x="330" y="500.1" width="78" height="1.5" fill-opacity="0.050"/><rect x="436" y="500.1" width="49" height="2" fill-opacity="0.056"/><rect x="515" y="500.1" width="98" height="2" fill-opacity="0.043"/><rect x="629" y="500.1" width="64" height="1" fill-opacity="0.030"/><rect x="-39" y="502.1" width="93" height="1" fill-opacity="0.041"/><rect x="73" y="502.1" width="105" height="1" fill-opacity="0.033"/><rect x="306" y="502.1" width="98" height="2" fill-opacity="0.065"/><rect x="561" y="502.1" width="28" height="1.5" fill-opacity="0.062"/><rect x="598" y="502.1" width="71" height="1.5" fill-opacity="0.046"/><rect x="-27" y="505.3" width="70" height="1" fill-opacity="0.052"/><rect x="63" y="505.3" width="99" height="1" fill-opacity="0.049"/><rect x="577" y="505.3" width="84" height="1" fill-opacity="0.060"/><rect x="-35" y="508.3" width="17" height="2" fill-opacity="0.031"/><rect x="211" y="508.3" width="52" height="1.5" fill-opacity="0.034"/><rect x="273" y="508.3" width="86" height="1" fill-opacity="0.067"/><rect x="419" y="508.3" width="37" height="1.5" fill-opacity="0.063"/><rect x="509" y="508.3" width="45" height="1" fill-opacity="0.030"/><rect x="577" y="508.3" width="47" height="1" fill-opacity="0.055"/><rect x="70" y="510.9" width="44" height="2" fill-opacity="0.035"/><rect x="403" y="510.9" width="50" height="1.5" fill-opacity="0.064"/><rect x="637" y="510.9" width="56" height="1" fill-opacity="0.065"/><rect x="-3" y="513.6" width="22" height="1" fill-opacity="0.068"/><rect x="34" y="513.6" width="48" height="1" fill-opacity="0.055"/><rect x="110" y="513.6" width="21" height="1.5" fill-opacity="0.067"/><rect x="168" y="513.6" width="71" height="1" fill-opacity="0.031"/><rect x="492" y="513.6" width="16" height="1.5" fill-opacity="0.056"/><rect x="32" y="517.2" width="32" height="1" fill-opacity="0.032"/><rect x="134" y="519.7" width="65" height="2" fill-opacity="0.055"/><rect x="230" y="519.7" width="64" height="1" fill-opacity="0.053"/><rect x="541" y="519.7" width="19" height="1" fill-opacity="0.039"/><rect x="617" y="519.7" width="53" height="1.5" fill-opacity="0.040"/><rect x="-33" y="522.7" width="49" height="1.5" fill-opacity="0.053"/><rect x="56" y="522.7" width="28" height="1" fill-opacity="0.062"/><rect x="244" y="522.7" width="37" height="1.5" fill-opacity="0.034"/><rect x="322" y="522.7" width="63" height="1" fill-opacity="0.052"/><rect x="417" y="522.7" width="71" height="1.5" fill-opacity="0.039"/><rect x="541" y="522.7" width="42" height="1" fill-opacity="0.043"/><rect x="609" y="522.7" width="84" height="1" fill-opacity="0.043"/><rect x="124" y="526.3" width="57" height="1" fill-opacity="0.033"/><rect x="306" y="526.3" width="98" height="1" fill-opacity="0.031"/><rect x="582" y="526.3" width="78" height="1" fill-opacity="0.060"/><rect x="-15" y="529.7" width="78" height="2" fill-opacity="0.063"/><rect x="81" y="529.7" width="68" height="1.5" fill-opacity="0.040"/><rect x="328" y="529.7" width="48" height="2" fill-opacity="0.065"/><rect x="657" y="529.7" width="106" height="1.5" fill-opacity="0.044"/><rect x="-25" y="531.9" width="104" height="1" fill-opacity="0.042"/><rect x="123" y="531.9" width="64" height="2" fill-opacity="0.033"/><rect x="240" y="531.9" width="30" height="1.5" fill-opacity="0.070"/><rect x="275" y="531.9" width="55" height="2" fill-opacity="0.035"/><rect x="376" y="531.9" width="43" height="1.5" fill-opacity="0.061"/><rect x="478" y="531.9" width="33" height="1.5" fill-opacity="0.053"/><rect x="560" y="531.9" width="27" height="2" fill-opacity="0.067"/><rect x="630" y="531.9" width="68" height="1" fill-opacity="0.046"/><rect x="15" y="534.8" width="64" height="1" fill-opacity="0.030"/><rect x="100" y="534.8" width="73" height="1.5" fill-opacity="0.067"/><rect x="-9" y="537.6" width="20" height="2" fill-opacity="0.036"/><rect x="43" y="537.6" width="94" height="1" fill-opacity="0.047"/><rect x="413" y="537.6" width="38" height="1.5" fill-opacity="0.059"/><rect x="571" y="537.6" width="55" height="1.5" fill-opacity="0.052"/><rect x="-7" y="541.8" width="22" height="1" fill-opacity="0.069"/><rect x="67" y="541.8" width="71" height="1" fill-opacity="0.062"/><rect x="455" y="541.8" width="106" height="1" fill-opacity="0.051"/><rect x="-17" y="544.2" width="68" height="1.5" fill-opacity="0.031"/><rect x="72" y="544.2" width="93" height="1.5" fill-opacity="0.063"/><rect x="215" y="544.2" width="76" height="1" fill-opacity="0.049"/><rect x="320" y="544.2" width="99" height="1.5" fill-opacity="0.056"/><rect x="429" y="544.2" width="26" height="2" fill-opacity="0.054"/><rect x="75" y="546.7" width="85" height="2" fill-opacity="0.033"/><rect x="205" y="546.7" width="73" height="1" fill-opacity="0.032"/><rect x="390" y="546.7" width="38" height="1" fill-opacity="0.052"/><rect x="484" y="546.7" width="55" height="1" fill-opacity="0.068"/><rect x="573" y="546.7" width="75" height="1.5" fill-opacity="0.068"/><rect x="36" y="548.6" width="64" height="2" fill-opacity="0.051"/><rect x="261" y="548.6" width="66" height="1" fill-opacity="0.039"/><rect x="337" y="548.6" width="26" height="1.5" fill-opacity="0.061"/><rect x="-19" y="551.8" width="66" height="2" fill-opacity="0.034"/><rect x="77" y="551.8" width="50" height="2" fill-opacity="0.046"/><rect x="341" y="551.8" width="33" height="1.5" fill-opacity="0.035"/><rect x="388" y="551.8" width="31" height="2" fill-opacity="0.068"/><rect x="465" y="551.8" width="47" height="1" fill-opacity="0.065"/><rect x="569" y="551.8" width="62" height="1" fill-opacity="0.062"/><rect x="-52" y="555.6" width="31" height="1" fill-opacity="0.062"/><rect x="35" y="555.6" width="55" height="1.5" fill-opacity="0.065"/><rect x="176" y="555.6" width="48" height="2" fill-opacity="0.051"/><rect x="243" y="555.6" width="49" height="1" fill-opacity="0.069"/><rect x="310" y="555.6" width="53" height="1" fill-opacity="0.041"/><rect x="471" y="555.6" width="108" height="1" fill-opacity="0.053"/><rect x="601" y="555.6" width="15" height="1" fill-opacity="0.034"/><rect x="-55" y="557.9" width="41" height="2" fill-opacity="0.069"/><rect x="267" y="557.9" width="70" height="1" fill-opacity="0.050"/><rect x="596" y="557.9" width="72" height="1" fill-opacity="0.058"/><rect x="-57" y="560.5" width="44" height="1.5" fill-opacity="0.037"/><rect x="14" y="560.5" width="96" height="1" fill-opacity="0.031"/><rect x="169" y="560.5" width="31" height="1.5" fill-opacity="0.048"/><rect x="247" y="560.5" width="65" height="1" fill-opacity="0.056"/><rect x="336" y="560.5" width="46" height="2" fill-opacity="0.054"/><rect x="105" y="564.1" width="80" height="1" fill-opacity="0.066"/><rect x="450" y="564.1" width="35" height="1.5" fill-opacity="0.033"/><rect x="617" y="564.1" width="45" height="1.5" fill-opacity="0.033"/><rect x="79" y="566.0" width="74" height="1" fill-opacity="0.045"/><rect x="502" y="566.0" width="48" height="1.5" fill-opacity="0.052"/><rect x="-35" y="570.1" width="21" height="1" fill-opacity="0.047"/><rect x="41" y="570.1" width="95" height="1.5" fill-opacity="0.067"/><rect x="424" y="570.1" width="91" height="1" fill-opacity="0.066"/><rect x="532" y="570.1" width="81" height="1" fill-opacity="0.039"/><rect x="649" y="570.1" width="62" height="1" fill-opacity="0.048"/><rect x="190" y="573.5" width="64" height="1" fill-opacity="0.064"/><rect x="393" y="573.5" width="76" height="1" fill-opacity="0.036"/><rect x="-29" y="577.2" width="41" height="1" fill-opacity="0.037"/><rect x="41" y="577.2" width="102" height="1" fill-opacity="0.053"/><rect x="396" y="577.2" width="81" height="1" fill-opacity="0.031"/><rect x="657" y="577.2" width="36" height="1" fill-opacity="0.063"/><rect x="16" y="579.8" width="83" height="1" fill-opacity="0.065"/><rect x="120" y="579.8" width="31" height="1" fill-opacity="0.062"/><rect x="181" y="579.8" width="71" height="1.5" fill-opacity="0.052"/><rect x="344" y="579.8" width="21" height="1.5" fill-opacity="0.066"/><rect x="392" y="579.8" width="65" height="1" fill-opacity="0.056"/><rect x="578" y="579.8" width="82" height="2" fill-opacity="0.058"/><rect x="-31" y="582.2" width="105" height="1" fill-opacity="0.060"/><rect x="79" y="582.2" width="34" height="1.5" fill-opacity="0.070"/><rect x="162" y="582.2" width="17" height="1" fill-opacity="0.059"/><rect x="212" y="582.2" width="20" height="1" fill-opacity="0.043"/><rect x="424" y="582.2" width="88" height="2" fill-opacity="0.061"/><rect x="525" y="582.2" width="97" height="2" fill-opacity="0.036"/><rect x="651" y="582.2" width="87" height="1" fill-opacity="0.070"/><rect x="64" y="584.8" width="75" height="1.5" fill-opacity="0.058"/><rect x="170" y="584.8" width="99" height="1.5" fill-opacity="0.053"/><rect x="395" y="584.8" width="88" height="1" fill-opacity="0.035"/><rect x="525" y="584.8" width="57" height="1.5" fill-opacity="0.047"/><rect x="640" y="584.8" width="40" height="1" fill-opacity="0.059"/><rect x="37" y="589.2" width="44" height="1" fill-opacity="0.054"/><rect x="276" y="589.2" width="50" height="1" fill-opacity="0.030"/><rect x="381" y="589.2" width="43" height="1.5" fill-opacity="0.041"/><rect x="600" y="589.2" width="101" height="1" fill-opacity="0.031"/><rect x="53" y="591.9" width="78" height="1" fill-opacity="0.069"/><rect x="511" y="591.9" width="106" height="2" fill-opacity="0.063"/><rect x="222" y="595.5" width="73" height="1" fill-opacity="0.068"/><rect x="340" y="595.5" width="93" height="2" fill-opacity="0.046"/><rect x="578" y="595.5" width="104" height="1.5" fill-opacity="0.032"/><rect x="-0" y="598.8" width="22" height="2" fill-opacity="0.065"/><rect x="66" y="598.8" width="55" height="1.5" fill-opacity="0.067"/><rect x="127" y="598.8" width="59" height="1.5" fill-opacity="0.067"/><rect x="211" y="598.8" width="104" height="2" fill-opacity="0.032"/><rect x="466" y="598.8" width="71" height="1.5" fill-opacity="0.038"/><rect x="574" y="598.8" width="95" height="1" fill-opacity="0.034"/><rect x="-27" y="601.5" width="99" height="1" fill-opacity="0.064"/><rect x="109" y="601.5" width="105" height="2" fill-opacity="0.052"/><rect x="240" y="601.5" width="24" height="1" fill-opacity="0.058"/><rect x="440" y="601.5" width="25" height="1.5" fill-opacity="0.038"/><rect x="601" y="601.5" width="49" height="2" fill-opacity="0.058"/><rect x="18" y="603.1" width="95" height="1" fill-opacity="0.061"/><rect x="252" y="603.1" width="68" height="1.5" fill-opacity="0.062"/><rect x="350" y="603.1" width="67" height="1" fill-opacity="0.060"/><rect x="424" y="603.1" width="21" height="1" fill-opacity="0.063"/><rect x="595" y="603.1" width="95" height="2" fill-opacity="0.062"/><rect x="128" y="605.5" width="96" height="1" fill-opacity="0.050"/><rect x="279" y="605.5" width="59" height="1" fill-opacity="0.033"/><rect x="354" y="605.5" width="100" height="1" fill-opacity="0.054"/><rect x="-3" y="608.8" width="43" height="1" fill-opacity="0.068"/><rect x="74" y="608.8" width="47" height="1" fill-opacity="0.058"/><rect x="305" y="608.8" width="103" height="2" fill-opacity="0.056"/><rect x="450" y="608.8" width="39" height="1.5" fill-opacity="0.068"/><rect x="546" y="608.8" width="21" height="2" fill-opacity="0.048"/><rect x="674" y="608.8" width="53" height="2" fill-opacity="0.042"/><rect x="80" y="613.1" width="25" height="2" fill-opacity="0.054"/><rect x="257" y="613.1" width="68" height="2" fill-opacity="0.042"/><rect x="375" y="613.1" width="70" height="1.5" fill-opacity="0.055"/><rect x="616" y="613.1" width="15" height="2" fill-opacity="0.068"/><rect x="659" y="613.1" width="99" height="1" fill-opacity="0.063"/><rect x="84" y="617.5" width="95" height="1" fill-opacity="0.038"/><rect x="194" y="617.5" width="34" height="1" fill-opacity="0.065"/><rect x="282" y="617.5" width="43" height="1" fill-opacity="0.060"/><rect x="350" y="617.5" width="47" height="1.5" fill-opacity="0.042"/><rect x="417" y="617.5" width="82" height="2" fill-opacity="0.034"/><rect x="538" y="617.5" width="104" height="1" fill-opacity="0.055"/><rect x="257" y="620.2" width="87" height="1.5" fill-opacity="0.031"/><rect x="-19" y="623.2" width="58" height="1.5" fill-opacity="0.070"/><rect x="70" y="623.2" width="106" height="2" fill-opacity="0.044"/><rect x="426" y="623.2" width="59" height="1" fill-opacity="0.031"/><rect x="529" y="623.2" width="77" height="2" fill-opacity="0.043"/><rect x="23" y="627.5" width="86" height="2" fill-opacity="0.039"/><rect x="157" y="627.5" width="46" height="2" fill-opacity="0.053"/><rect x="219" y="627.5" width="81" height="1" fill-opacity="0.040"/><rect x="497" y="627.5" width="34" height="1.5" fill-opacity="0.055"/><rect x="71" y="631.1" width="63" height="1" fill-opacity="0.047"/><rect x="191" y="631.1" width="56" height="1.5" fill-opacity="0.043"/><rect x="294" y="631.1" width="48" height="1.5" fill-opacity="0.048"/><rect x="380" y="631.1" width="48" height="2" fill-opacity="0.069"/><rect x="605" y="631.1" width="94" height="1" fill-opacity="0.061"/><rect x="199" y="632.7" width="58" height="1" fill-opacity="0.050"/><rect x="604" y="632.7" width="96" height="1" fill-opacity="0.067"/><rect x="-48" y="637.2" width="79" height="1" fill-opacity="0.058"/><rect x="69" y="637.2" width="96" height="1" fill-opacity="0.054"/><rect x="288" y="637.2" width="77" height="1.5" fill-opacity="0.049"/><rect x="410" y="637.2" width="27" height="2" fill-opacity="0.057"/><rect x="448" y="637.2" width="67" height="1" fill-opacity="0.045"/><rect x="592" y="637.2" width="106" height="1" fill-opacity="0.068"/><rect x="-41" y="641.6" width="71" height="1" fill-opacity="0.059"/><rect x="150" y="641.6" width="73" height="2" fill-opacity="0.041"/><rect x="375" y="641.6" width="87" height="1" fill-opacity="0.046"/><rect x="208" y="645.7" width="36" height="1" fill-opacity="0.032"/><rect x="378" y="645.7" width="37" height="1" fill-opacity="0.042"/><rect x="541" y="645.7" width="61" height="1" fill-opacity="0.065"/><rect x="639" y="645.7" width="51" height="1" fill-opacity="0.068"/><rect x="-11" y="648.0" width="33" height="1.5" fill-opacity="0.062"/><rect x="227" y="648.0" width="109" height="1.5" fill-opacity="0.067"/><rect x="454" y="648.0" width="29" height="2" fill-opacity="0.066"/><rect x="588" y="648.0" width="91" height="1.5" fill-opacity="0.042"/><rect x="-14" y="652.3" width="89" height="1.5" fill-opacity="0.041"/><rect x="256" y="652.3" width="83" height="1" fill-opacity="0.045"/><rect x="53" y="654.2" width="41" height="1.5" fill-opacity="0.066"/><rect x="128" y="654.2" width="34" height="1" fill-opacity="0.051"/><rect x="193" y="654.2" width="106" height="1.5" fill-opacity="0.032"/><rect x="511" y="654.2" width="77" height="1" fill-opacity="0.069"/><rect x="626" y="654.2" width="53" height="1.5" fill-opacity="0.040"/><rect x="91" y="656.5" width="16" height="2" fill-opacity="0.068"/><rect x="131" y="656.5" width="78" height="2" fill-opacity="0.063"/><rect x="223" y="656.5" width="74" height="2" fill-opacity="0.060"/><rect x="356" y="656.5" width="35" height="2" fill-opacity="0.054"/><rect x="429" y="656.5" width="16" height="1.5" fill-opacity="0.052"/><rect x="481" y="656.5" width="79" height="1" fill-opacity="0.054"/><rect x="587" y="656.5" width="66" height="1.5" fill-opacity="0.048"/><rect x="142" y="659.6" width="105" height="1" fill-opacity="0.060"/><rect x="454" y="659.6" width="108" height="1.5" fill-opacity="0.060"/><rect x="571" y="659.6" width="50" height="1" fill-opacity="0.067"/><rect x="653" y="659.6" width="46" height="1.5" fill-opacity="0.046"/><rect x="84" y="662.6" width="85" height="1" fill-opacity="0.045"/><rect x="184" y="662.6" width="52" height="1" fill-opacity="0.066"/><rect x="449" y="662.6" width="91" height="2" fill-opacity="0.037"/><rect x="554" y="662.6" width="22" height="2" fill-opacity="0.058"/><rect x="631" y="662.6" width="82" height="1" fill-opacity="0.063"/><rect x="-18" y="664.3" width="105" height="1" fill-opacity="0.042"/><rect x="142" y="664.3" width="74" height="2" fill-opacity="0.031"/><rect x="297" y="664.3" width="79" height="1" fill-opacity="0.055"/><rect x="389" y="664.3" width="55" height="1.5" fill-opacity="0.066"/><rect x="595" y="664.3" width="22" height="1" fill-opacity="0.064"/><rect x="660" y="664.3" width="102" height="1.5" fill-opacity="0.046"/><rect x="-11" y="667.7" width="88" height="1.5" fill-opacity="0.056"/><rect x="277" y="667.7" width="49" height="1" fill-opacity="0.032"/><rect x="513" y="667.7" width="107" height="1" fill-opacity="0.055"/><rect x="-14" y="671.8" width="43" height="2" fill-opacity="0.069"/><rect x="53" y="671.8" width="79" height="1" fill-opacity="0.036"/><rect x="153" y="671.8" width="104" height="1" fill-opacity="0.058"/><rect x="264" y="671.8" width="89" height="1" fill-opacity="0.035"/><rect x="389" y="671.8" width="16" height="1.5" fill-opacity="0.050"/><rect x="655" y="671.8" width="70" height="1" fill-opacity="0.055"/><rect x="123" y="676.1" width="86" height="1" fill-opacity="0.058"/><rect x="262" y="676.1" width="39" height="2" fill-opacity="0.066"/><rect x="325" y="676.1" width="21" height="1" fill-opacity="0.067"/><rect x="594" y="676.1" width="30" height="1.5" fill-opacity="0.052"/><rect x="636" y="676.1" width="101" height="1" fill-opacity="0.055"/><rect x="-45" y="679.1" width="35" height="2" fill-opacity="0.061"/><rect x="18" y="679.1" width="97" height="2" fill-opacity="0.033"/><rect x="123" y="679.1" width="92" height="2" fill-opacity="0.043"/><rect x="392" y="679.1" width="32" height="2" fill-opacity="0.061"/><rect x="445" y="679.1" width="89" height="1" fill-opacity="0.061"/><rect x="553" y="679.1" width="69" height="2" fill-opacity="0.053"/></g></svg>
<div class="t ti L" style="left:60.8px;top:50.16px;transform:scaleX(0.9873);letter-spacing:2.0px">GUARANTEED ANALYSIS</div>
<div class="t r L" style="left:60px;top:131.01px;transform:scaleX(1.1387)">Crude Protein</div>
<div class="t r L" style="left:296px;top:131.01px;transform:scaleX(1.1226)">Not Less Than</div>
<div class="t r R" style="right:61.30px;top:131.01px;transform:scaleX(1.1085)">32.0%</div>
<div class="t r L" style="left:60px;top:155.81px;transform:scaleX(1.1254)">Crude Fat</div>
<div class="t r L" style="left:296px;top:155.81px;transform:scaleX(1.1226)">Not Less Than</div>
<div class="t r R" style="right:61.30px;top:155.81px;transform:scaleX(1.0643)">16.0%</div>
<div class="t r L" style="left:60px;top:180.61px;transform:scaleX(1.1382)">Crude Fiber</div>
<div class="t r L" style="left:296px;top:180.61px;transform:scaleX(1.1418)">Not More Than</div>
<div class="t r R" style="right:61.30px;top:180.61px;transform:scaleX(1.1403)">5.00%</div>
<div class="t r L" style="left:60px;top:205.41px;transform:scaleX(1.1514)">Moisture</div>
<div class="t r L" style="left:296px;top:205.41px;transform:scaleX(1.1418)">Not More Than</div>
<div class="t r R" style="right:61.30px;top:205.41px;transform:scaleX(1.0654)">10.0%</div>
<div class="t r L" style="left:60px;top:230.21px;transform:scaleX(1.1469)">Calcium</div>
<div class="t r L" style="left:296px;top:230.21px;transform:scaleX(1.1226)">Not Less Than</div>
<div class="t r R" style="right:61.30px;top:230.21px;transform:scaleX(1.0654)">1.40%</div>
<div class="t r L" style="left:60px;top:255.01px;transform:scaleX(1.1319)">Phosphorus</div>
<div class="t r L" style="left:296px;top:255.01px;transform:scaleX(1.1226)">Not Less Than</div>
<div class="t r R" style="right:61.30px;top:255.01px;transform:scaleX(1.076)">1.00%</div>
<div class="t r L" style="left:60px;top:279.81px;transform:scaleX(1.1775)">Vitamin A</div>
<div class="t r L" style="left:296px;top:279.81px;transform:scaleX(1.1226)">Not Less Than</div>
<div class="t r R" style="right:61.30px;top:279.81px;transform:scaleX(1.1974)">25,000 IU/kg</div>
<div class="t r L" style="left:60px;top:304.61px;transform:scaleX(1.1571)">Vitamin E</div>
<div class="t r L" style="left:296px;top:304.61px;transform:scaleX(1.1226)">Not Less Than</div>
<div class="t r R" style="right:61.30px;top:304.61px;transform:scaleX(1.2136)">200 IU/kg</div>
<div class="t r L" style="left:60px;top:329.41px;transform:scaleX(1.1182)">Taurine*</div>
<div class="t r L" style="left:296px;top:329.41px;transform:scaleX(1.1226)">Not Less Than</div>
<div class="t r R" style="right:61.30px;top:329.41px;transform:scaleX(1.1506)">0.09%</div>
<div class="t r L" style="left:60px;top:354.21px;transform:scaleX(1.1638)">Omega-6 Fatty Acids*</div>
<div class="t r L" style="left:296px;top:354.21px;transform:scaleX(1.1226)">Not Less Than</div>
<div class="t r R" style="right:61.30px;top:354.21px;transform:scaleX(1.1095)">3.50%</div>
<div class="t r L" style="left:60px;top:379.01px;transform:scaleX(1.1544)">Omega-3 Fatty Acids*</div>
<div class="t r L" style="left:296px;top:379.01px;transform:scaleX(1.1226)">Not Less Than</div>
<div class="t r R" style="right:61.30px;top:379.01px;transform:scaleX(1.0974)">1.00%</div>
<div class="t r L" style="left:60px;top:403.81px;transform:scaleX(1.1101)">Glucosamine*</div>
<div class="t r L" style="left:296px;top:403.81px;transform:scaleX(1.1226)">Not Less Than</div>
<div class="t r R" style="right:61.30px;top:403.81px;transform:scaleX(1.238)">600 mg/kg</div>
<div class="t r L" style="left:60px;top:428.61px;transform:scaleX(1.1442)">Chondroitin Sulfate*</div>
<div class="t r L" style="left:296px;top:428.61px;transform:scaleX(1.1226)">Not Less Than</div>
<div class="t r R" style="right:61.30px;top:428.61px;transform:scaleX(1.238)">600 mg/kg</div>
<div class="t r L" style="left:60px;top:453.41px;transform:scaleX(1.1404)">Total Microorganisms*</div>
<div class="t r L" style="left:296px;top:453.41px;transform:scaleX(1.1226)">Not Less Than</div>
<div class="t r R" style="right:61.30px;top:453.41px;transform:scaleX(1.0387)">20,000,000 CFU/lb</div>
<div class="t n L" style="left:60px;top:478.70px;transform:scaleX(1.1989)">(Enterococcus faecium, Bacillus licheniformis, Bacillus subtilis)</div>
<div class="t n L" style="left:60px;top:498.70px;transform:scaleX(1.2122)">*Not recognized as an essential nutrient by the AAFCO Dog Food Nutrient Profiles</div>
<div class="t n L" style="left:60px;top:511.70px;transform:scaleX(1.2048)">Contains a source of live (viable) naturally occurring microorganisms.</div>
<svg style="position:absolute;left:0;top:0" width="679" height="679" viewBox="0 0 679 679"><g fill="#940b48"><path d="M-1.0,579.0 L0.0,578.0 L1.3,573.9 L4.6,577.7 L6.6,573.6 L11.7,577.3 L12.7,574.1 L17.3,576.9 L19.8,566.8 L21.5,576.7 L24.2,571.5 L25.1,576.7 L24.6,570.0 L28.4,577.5 L29.8,573.9 L34.2,578.7 L36.8,574.2 L37.8,579.5 L39.3,574.9 L41.3,580.3 L43.7,577.6 L44.6,581.0 L48.5,576.0 L50.3,582.6 L54.6,578.5 L55.1,584.2 L58.2,580.1 L59.3,585.6 L62.2,581.3 L65.9,587.6 L69.3,583.8 L71.5,588.3 L75.6,585.5 L76.9,588.9 L79.0,583.2 L82.7,589.6 L82.9,581.8 L88.2,591.4 L89.0,589.1 L92.6,594.3 L94.7,588.1 L98.8,597.1 L103.8,594.6 L105.1,598.4 L107.1,591.1 L111.2,599.6 L113.4,595.1 L114.8,600.4 L117.7,596.9 L120.3,601.1 L125.3,594.3 L127.7,601.6 L131.1,595.8 L132.8,601.9 L133.2,598.0 L137.0,602.2 L140.3,594.3 L141.1,602.4 L143.0,598.6 L145.5,602.7 L149.6,598.9 L151.4,603.6 L155.4,602.5 L157.5,606.4 L160.8,598.1 L165.2,609.4 L164.7,602.6 L168.7,610.1 L169.4,606.5 L172.8,610.9 L175.6,607.3 L176.3,611.6 L181.5,608.2 L182.4,612.7 L186.7,608.1 L186.1,613.4 L191.7,610.1 L191.5,614.3 L192.8,606.5 L196.8,614.9 L200.9,610.3 L203.6,615.6 L208.7,610.9 L209.1,616.2 L213.5,606.5 L212.9,616.7 L215.8,612.9 L217.4,617.1 L218.8,613.3 L222.2,617.5 L223.9,607.7 L227.9,618.0 L234.0,613.4 L235.0,618.6 L237.2,613.9 L241.7,619.1 L246.5,616.2 L248.3,619.4 L251.0,613.5 L252.3,619.6 L253.4,613.7 L260.2,620.0 L262.1,614.2 L265.6,620.3 L269.9,617.5 L273.1,620.9 L277.3,617.3 L280.1,621.9 L282.1,617.1 L285.0,622.6 L288.1,617.2 L292.0,623.5 L296.3,616.1 L298.6,624.4 L303.1,620.7 L305.2,625.1 L309.0,617.4 L311.1,625.8 L315.2,618.1 L318.3,626.5 L319.9,622.9 L324.0,627.1 L328.9,623.5 L330.7,627.6 L334.4,622.7 L335.8,627.8 L338.7,622.9 L340.1,628.0 L341.6,618.1 L344.7,628.2 L351.0,622.4 L352.3,628.5 L356.9,618.7 L359.3,628.8 L360.8,618.9 L364.8,629.0 L370.1,624.8 L372.2,628.6 L374.6,624.5 L376.0,628.5 L380.0,622.4 L381.7,628.2 L385.5,624.2 L387.2,628.0 L390.6,624.8 L391.1,627.6 L394.3,623.3 L396.9,627.0 L398.1,616.8 L402.5,626.5 L404.9,618.2 L408.0,625.9 L413.8,620.5 L413.6,625.3 L413.6,617.2 L417.6,624.9 L421.1,620.5 L422.8,624.0 L427.0,618.5 L426.9,623.3 L428.0,616.9 L430.7,622.6 L434.7,617.2 L438.5,621.3 L445.7,616.5 L445.9,620.0 L450.2,612.6 L449.7,619.1 L452.2,612.4 L454.8,617.9 L456.7,607.4 L457.9,617.1 L461.2,606.5 L462.9,615.9 L466.4,610.7 L466.2,615.1 L469.9,611.8 L470.5,614.1 L476.2,606.4 L477.3,613.1 L481.1,605.6 L485.0,612.4 L485.3,606.2 L490.9,611.8 L495.5,604.6 L497.3,611.2 L499.9,607.2 L500.4,611.0 L502.1,606.7 L507.7,610.1 L509.6,599.9 L510.7,609.8 L513.5,606.5 L516.8,609.1 L517.3,604.9 L520.4,608.6 L523.7,603.3 L528.1,607.8 L530.5,603.5 L533.3,607.3 L536.1,603.9 L541.3,606.6 L543.9,601.4 L547.0,606.1 L550.7,598.8 L552.2,605.6 L554.5,595.4 L559.7,605.1 L563.9,600.0 L563.8,604.9 L570.6,597.6 L570.0,604.5 L572.6,601.3 L577.2,604.1 L577.9,599.9 L581.5,603.8 L584.5,593.6 L586.4,603.3 L586.2,598.1 L590.6,602.9 L592.8,599.6 L594.9,602.5 L596.9,592.2 L602.8,601.6 L604.6,596.3 L610.2,600.6 L612.2,592.3 L615.1,600.0 L616.2,596.6 L619.4,599.4 L620.7,596.2 L623.1,598.9 L626.9,594.5 L629.2,598.1 L634.6,590.9 L636.0,597.8 L640.3,592.6 L641.5,597.5 L644.2,587.5 L644.7,597.4 L651.0,593.2 L651.7,597.1 L656.6,594.0 L657.6,596.9 L658.3,591.8 L665.0,596.6 L667.7,592.4 L671.2,596.3 L673.9,593.2 L674.5,596.2 L676.3,593.1 L679.9,596.0 L682.3,586.0 L680.0,596.0 L680,680 L-1,680 Z"/><path d="M22.5,580.0 Q22.8,553.0 20.6,529.4 Q27.3,553.0 27.5,580.0 Z"/><path d="M29.0,580.0 Q30.0,556.5 40.0,537.7 Q33.6,556.5 33.0,580.0 Z"/><path d="M21.4,580.0 Q20.5,563.3 16.5,550.6 Q23.4,563.3 24.6,580.0 Z"/><path d="M16.5,581.0 Q15.3,570.0 12.4,563.0 Q18.0,570.0 19.5,581.0 Z"/><path d="M32.6,581.0 Q35.2,563.8 44.8,551.8 Q38.5,563.8 36.4,581.0 Z"/><path d="M37.5,583.0 Q40.8,564.6 52.4,552.4 Q44.4,564.6 41.5,583.0 Z"/><path d="M53.4,585.0 Q47.1,569.2 46.5,555.0 Q50.1,569.2 56.6,585.0 Z"/><path d="M57.8,586.0 Q57.6,577.6 57.0,572.4 Q59.9,577.6 60.2,586.0 Z"/><path d="M606.2,606.0 Q609.2,574.2 623.3,547.7 Q614.3,574.2 611.8,606.0 Z"/><path d="M593.8,606.0 Q594.2,579.6 599.2,556.5 Q598.0,579.6 598.2,606.0 Z"/><path d="M590.0,606.0 Q587.9,581.4 580.3,561.8 Q591.6,581.4 594.0,606.0 Z"/><path d="M588.3,606.0 Q583.6,587.6 576.2,574.2 Q586.6,587.6 591.7,606.0 Z"/><path d="M584.1,606.0 Q578.7,588.5 569.7,577.1 Q582.1,588.5 587.9,606.0 Z"/><path d="M579.4,606.0 Q572.8,593.7 564.4,587.7 Q575.7,593.7 582.6,606.0 Z"/><path d="M600.4,606.0 Q600.2,588.5 599.8,574.2 Q603.1,588.5 603.6,606.0 Z"/><path d="M603.4,606.0 Q604.0,590.0 604.5,577.1 Q607.0,590.0 606.6,606.0 Z"/><path d="M610.8,603.0 Q615.0,588.2 623.3,577.7 Q618.2,588.2 614.4,603.0 Z"/><path d="M641.0,602.0 Q636.6,581.7 628.3,566.8 Q640.2,581.7 645.0,602.0 Z"/><path d="M642.7,602.0 Q644.4,577.8 651.0,557.0 Q648.6,577.8 647.3,602.0 Z"/><path d="M650.2,602.0 Q651.4,590.6 655.5,582.6 Q654.6,590.6 653.8,602.0 Z"/><path d="M665.3,600.0 Q665.5,593.3 667.0,589.6 Q668.5,593.3 668.7,600.0 Z"/><path d="M673.3,600.0 Q673.4,592.0 674.8,587.0 Q676.4,592.0 676.7,600.0 Z"/></g></svg>
</body></html>
